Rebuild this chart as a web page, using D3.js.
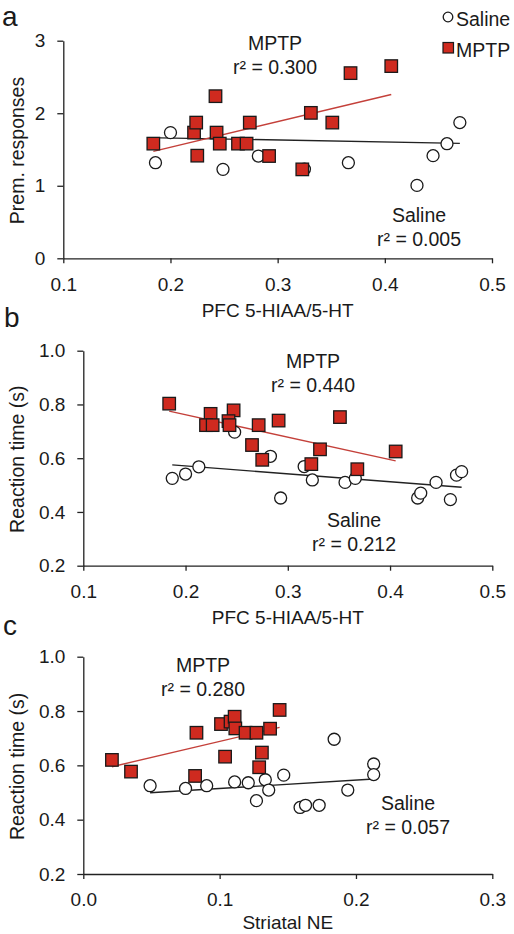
<!DOCTYPE html>
<html>
<head>
<meta charset="utf-8">
<script src="https://cdn.jsdelivr.net/npm/d3@7"></script>
<style>
  html, body { margin: 0; padding: 0; background: #fff; }
  svg { display: block; font-family: "Liberation Sans", Arial, sans-serif; }
</style>
</head>
<body>
<svg id="chart" width="514" height="934"></svg>
<script>
// ---------------- DATA ----------------
// Panel a: PFC 5-HIAA/5-HT vs premature responses
const salineA = [[0.186,1.318],[0.200,1.733],[0.249,1.226],[0.282,1.410],[0.325,1.230],[0.366,1.318],[0.430,1.005],[0.445,1.415],[0.458,1.580],[0.470,1.871]];
const mptpA = [[0.184,1.581],[0.222,1.733],[0.224,1.871],[0.225,1.415],[0.242,2.235],[0.243,1.733],[0.246,1.581],[0.263,1.581],[0.271,1.581],[0.274,1.871],[0.292,1.410],[0.323,1.226],[0.331,2.005],[0.351,1.871],[0.368,2.553],[0.406,2.650]];
const salineFitA = [[0.178,1.664],[0.470,1.585]];
const mptpFitA = [[0.184,1.475],[0.406,2.258]];

// Panel b: PFC 5-HIAA/5-HT vs reaction time
const salineB = [[0.187,0.525],[0.200,0.541],[0.213,0.568],[0.248,0.697],[0.283,0.607],[0.293,0.452],[0.316,0.569],[0.324,0.519],[0.356,0.510],[0.366,0.525],[0.427,0.452],[0.430,0.470],[0.445,0.510],[0.459,0.446],[0.465,0.537],[0.470,0.550]];
const mptpB = [[0.184,0.803],[0.2245,0.765],[0.220,0.723],[0.2265,0.723],[0.247,0.778],[0.242,0.738],[0.243,0.723],[0.265,0.649],[0.2715,0.723],[0.275,0.594],[0.291,0.740],[0.323,0.578],[0.3315,0.633],[0.351,0.753],[0.368,0.559],[0.4055,0.625]];
const salineFitB = [[0.187,0.575],[0.470,0.492]];
const mptpFitB = [[0.184,0.775],[0.4055,0.590]];

// Panel c: Striatal NE vs reaction time
const salineC = [[0.049,0.525],[0.075,0.515],[0.0905,0.525],[0.111,0.539],[0.121,0.536],[0.127,0.470],[0.1335,0.547],[0.136,0.509],[0.147,0.564],[0.159,0.445],[0.163,0.453],[0.173,0.453],[0.184,0.696],[0.194,0.509],[0.213,0.605],[0.213,0.566]];
const mptpC = [[0.021,0.620],[0.035,0.577],[0.083,0.720],[0.082,0.561],[0.101,0.752],[0.104,0.632],[0.108,0.761],[0.111,0.779],[0.1115,0.736],[0.119,0.720],[0.127,0.720],[0.131,0.647],[0.129,0.593],[0.137,0.735],[0.144,0.804]];
const salineFitC = [[0.049,0.499],[0.213,0.550]];
const mptpFitC = [[0.021,0.595],[0.144,0.740]];

// Axes / labels
const xTicksPFC = [0.1, 0.2, 0.3, 0.4, 0.5];
const xTicksNE = [0.0, 0.1, 0.2, 0.3];
const yTicksPrem = [0, 1, 2, 3];
const yTicksRT = [0.2, 0.4, 0.6, 0.8, 1.0];
const panelLetters = ["a", "b", "c"];
const xTitles = ["PFC 5-HIAA/5-HT", "PFC 5-HIAA/5-HT", "Striatal NE"];
const yTitles = ["Prem. responses", "Reaction time (s)", "Reaction time (s)"];
const mptpR2 = ["r\u00B2 = 0.300", "r\u00B2 = 0.440", "r\u00B2 = 0.280"];
const salineR2 = ["r\u00B2 = 0.005", "r\u00B2 = 0.212", "r\u00B2 = 0.057"];
const groupNames = ["Saline", "MPTP"];

// ---------------- LAYOUT ----------------
const RED = "#cf2a1f";
const LINE_RED = "#c4403a";
const INK = "#1a1a1a";
const FS = 19;

const panels = [
  { saline: salineA, mptp: mptpA, sFit: salineFitA, mFit: mptpFitA,
    xDom: [0.1, 0.5], yDom: [0, 3], xr: [63.3, 492], yr: [258.3, 40.7],
    xt: xTicksPFC, yt: yTicksPrem, xf: d3.format(".1f"), yf: d3.format("d"),
    letterPos: [2, 25.5], mLab: [275, 43], sLab: [419, 215], yTitleX: 17, titleOff: 58.5 },
  { saline: salineB, mptp: mptpB, sFit: salineFitB, mFit: mptpFitB,
    xDom: [0.1, 0.5], yDom: [0.2, 1.0], xr: [83.3, 492.3], yr: [565.7, 350.7],
    xt: xTicksPFC, yt: yTicksRT, xf: d3.format(".1f"), yf: d3.format(".1f"),
    letterPos: [4, 327], mLab: [313, 361], sLab: [354, 520], yTitleX: 17.5, titleOff: 58.5 },
  { saline: salineC, mptp: mptpC, sFit: salineFitC, mFit: mptpFitC,
    xDom: [0.0, 0.3], yDom: [0.2, 1.0], xr: [83.3, 492.3], yr: [874, 656.7],
    xt: xTicksNE, yt: yTicksRT, xf: d3.format(".1f"), yf: d3.format(".1f"),
    letterPos: [3, 635], mLab: [203, 665], sLab: [408, 803], yTitleX: 17.5, titleOff: 55 }
];

const svg = d3.select("#chart");

panels.forEach((p, i) => {
  const x = d3.scaleLinear().domain(p.xDom).range(p.xr);
  const y = d3.scaleLinear().domain(p.yDom).range(p.yr);
  const g = svg.append("g");

  // x axis
  const xAxis = g.append("g")
    .attr("transform", `translate(0,${p.yr[0]})`)
    .call(d3.axisBottom(x).tickValues(p.xt).tickFormat(p.xf).tickSizeInner(5).tickSizeOuter(0).tickPadding(14));
  // y axis
  const yAxis = g.append("g")
    .attr("transform", `translate(${p.xr[0]},0)`)
    .call(d3.axisLeft(y).tickValues(p.yt).tickFormat(p.yf).tickSizeInner(6).tickSizeOuter(0).tickPadding(12));
  [xAxis, yAxis].forEach(ax => {
    ax.select(".domain").attr("stroke", "#222").attr("stroke-width", 1.3);
    ax.selectAll(".tick line").attr("stroke", "#222").attr("stroke-width", 1.3);
    ax.selectAll(".tick text").attr("fill", INK).attr("font-size", FS)
      .attr("font-family", "'Liberation Sans', Arial, sans-serif");
  });

  // axis titles
  g.append("text").attr("x", (p.xr[0] + p.xr[1]) / 2).attr("y", p.yr[0] + p.titleOff)
    .attr("text-anchor", "middle").attr("font-size", FS).attr("fill", INK)
    .text(xTitles[i]);
  g.append("text")
    .attr("transform", `translate(${p.yTitleX},${(p.yr[0] + p.yr[1]) / 2 + 1}) rotate(-90)`)
    .attr("dy", "0.35em").attr("text-anchor", "middle").attr("font-size", FS + 0.5).attr("fill", INK)
    .text(yTitles[i]);

  // panel letter
  g.append("text").attr("x", p.letterPos[0]).attr("y", p.letterPos[1])
    .attr("font-size", 28).attr("fill", INK).text(panelLetters[i]);

  // regression lines
  const line = d3.line().x(d => x(d[0])).y(d => y(d[1]));
  g.append("path").attr("d", line(p.sFit)).attr("stroke", "#222").attr("stroke-width", 1.4).attr("fill", "none");
  g.append("path").attr("d", line(p.mFit)).attr("stroke", LINE_RED).attr("stroke-width", 1.4).attr("fill", "none");

  // saline circles
  g.append("g").selectAll("circle").data(p.saline).join("circle")
    .attr("cx", d => x(d[0])).attr("cy", d => y(d[1])).attr("r", 6)
    .attr("fill", "#fff").attr("stroke", "#1a1a1a").attr("stroke-width", 1.3);
  // MPTP squares
  const s = 12.5;
  g.append("g").selectAll("rect").data(p.mptp).join("rect")
    .attr("x", d => x(d[0]) - s / 2).attr("y", d => y(d[1]) - s / 2)
    .attr("width", s).attr("height", s)
    .attr("fill", RED).attr("stroke", "#1a1a1a").attr("stroke-width", 1.3);

  // annotations
  const ann = (pos, t1, t2) => {
    g.append("text").attr("x", pos[0]).attr("y", pos[1]).attr("dy", "0.35em")
      .attr("text-anchor", "middle").attr("font-size", FS + 0.5).attr("fill", INK).text(t1);
    g.append("text").attr("x", pos[0]).attr("y", pos[1] + 24).attr("dy", "0.35em")
      .attr("text-anchor", "middle").attr("font-size", FS + 0.5).attr("fill", INK).text(t2);
  };
  ann(p.mLab, groupNames[1], mptpR2[i]);
  ann(p.sLab, groupNames[0], salineR2[i]);
});

// legend
const lg = svg.append("g");
lg.append("circle").attr("cx", 448).attr("cy", 17).attr("r", 4.8)
  .attr("fill", "#fff").attr("stroke", "#1a1a1a").attr("stroke-width", 1.3);
lg.append("text").attr("x", 456).attr("y", 19).attr("dy", "0.35em")
  .attr("font-size", FS + 0.5).attr("fill", INK).text(groupNames[0]);
lg.append("rect").attr("x", 443).attr("y", 42.5).attr("width", 10.5).attr("height", 10.5)
  .attr("fill", RED).attr("stroke", "#1a1a1a").attr("stroke-width", 1.2);
lg.append("text").attr("x", 456).attr("y", 50).attr("dy", "0.35em")
  .attr("font-size", FS + 0.5).attr("fill", INK).text(groupNames[1]);
</script>
</body>
</html>
